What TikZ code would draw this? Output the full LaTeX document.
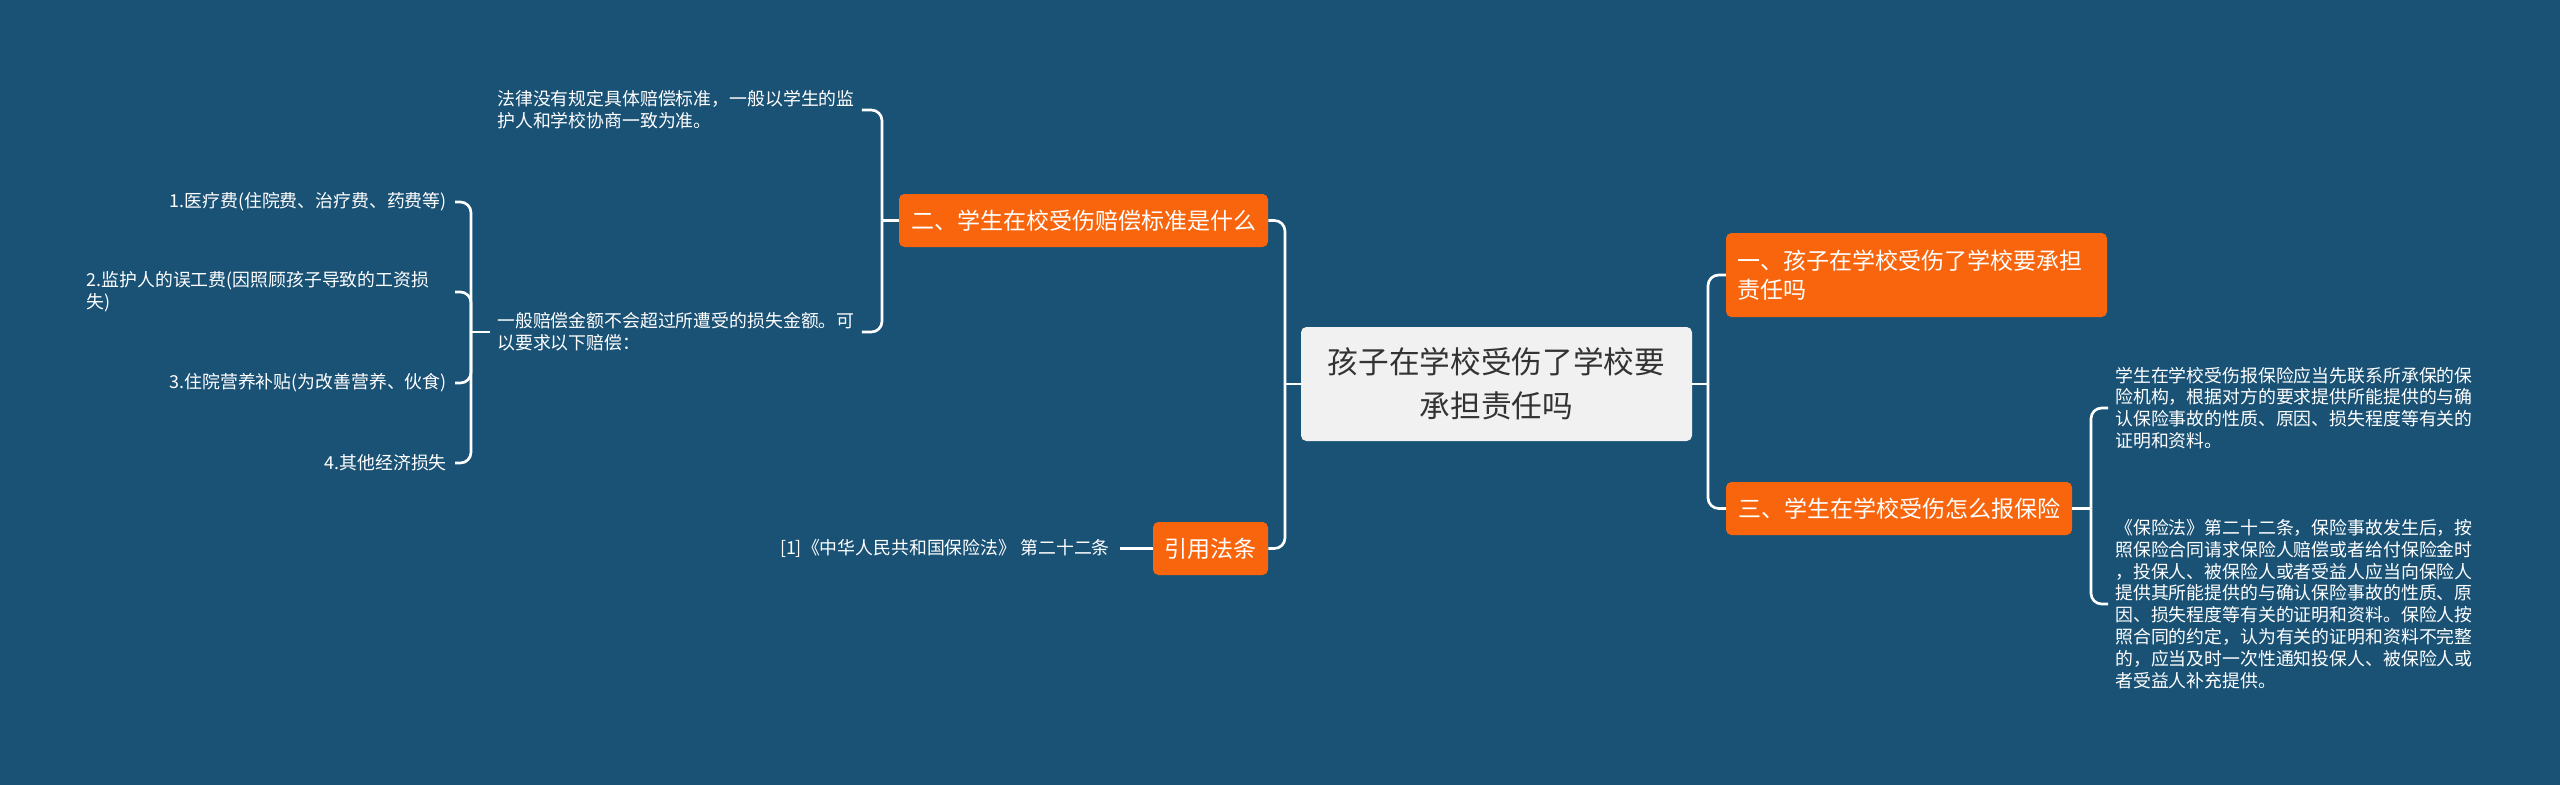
\documentclass[tikz,border=0pt]{standalone}
\usepackage{fontspec}
\setmainfont{Noto Sans CJK SC}
\definecolor{bgblue}{HTML}{1A5276}
\definecolor{orangebox}{HTML}{F8650D}
\definecolor{centerbox}{HTML}{F1F1F1}
\definecolor{centertext}{HTML}{333333}
\begin{document}
\begin{tikzpicture}[x=0.75pt,y=-0.75pt,
  conn/.style={draw=white,line width=2pt,rounded corners=8pt},
  topic/.style={rectangle,rounded corners=4pt,fill=orangebox,text=white,
    font=\fontsize{17.25pt}{21.75pt}\selectfont,minimum height=39.75pt,inner xsep=8.25pt,inner ysep=2pt},
  smalltxt/.style={text=white,font=\fontsize{13.4pt}{16.4pt}\selectfont,inner xsep=5.25pt,inner ysep=3pt}
]
\useasboundingbox (0,0) rectangle (2560,785);
\fill[bgblue] (0,0) rectangle (2560,785);

% central node
\node[rectangle,rounded corners=4pt,fill=centerbox,text=centertext,align=center,
  minimum width=293.25pt,minimum height=85.5pt,
  font=\fontsize{23pt}{33pt}\selectfont] (c) at (1496.5,384)
  {孩子在学校受伤了学校要\\承担责任吗};

% right topics
\node[topic,minimum width=285.75pt,minimum height=63pt,text width=269.25pt,align=left] (n1) at (1916.5,275)
  {一、孩子在学校受伤了学校要承担\\责任吗};
\node[topic,minimum width=259.5pt] (n3) at (1899,508.5) {三、学生在学校受伤怎么报保险};

% left topics
\node[topic,minimum width=276.75pt] (n2) at (1083.5,220.5) {二、学生在校受伤赔偿标准是什么};
\node[topic,minimum width=86.25pt] (cite) at (1210.5,548.5) {引用法条};

% right details
\node[smalltxt,anchor=west,align=left] (r1) at (2108,408)
  {学生在学校受伤报保险应当先联系所承保的保\\险机构，根据对方的要求提供所能提供的与确\\认保险事故的性质、原因、损失程度等有关的\\证明和资料。};
\node[smalltxt,anchor=west,align=left] (r2) at (2108,604)
  {《保险法》第二十二条，保险事故发生后，按\\照保险合同请求保险人赔偿或者给付保险金时\\，投保人、被保险人或者受益人应当向保险人\\提供其所能提供的与确认保险事故的性质、原\\因、损失程度等有关的证明和资料。保险人按\\照合同的约定，认为有关的证明和资料不完整\\的，应当及时一次性通知投保人、被保险人或\\者受益人补充提供。};

% left details
\node[smalltxt,anchor=west,align=left] (t1) at (490,110)
  {法律没有规定具体赔偿标准，一般以学生的监\\护人和学校协商一致为准。};
\node[smalltxt,anchor=west,align=left] (t2) at (490,332)
  {一般赔偿金额不会超过所遭受的损失金额。可\\以要求以下赔偿：};

\node[smalltxt,anchor=east,inner xsep=6pt] (l1) at (455,202) {1.医疗费(住院费、治疗费、药费等)};
\node[smalltxt,anchor=east,text width=270.75pt,align=left] (l2) at (455,292)
  {2.监护人的误工费(因照顾孩子导致的工资损\\失)};
\node[smalltxt,anchor=east,inner xsep=6pt] (l3) at (455,383) {3.住院营养补贴(为改善营养、伙食)};
\node[smalltxt,anchor=east,inner xsep=6pt] (l4) at (455,463) {4.其他经济损失};

\node[smalltxt,anchor=east,inner xsep=7.5pt] (ct) at (1120,548.5) {[1]《中华人民共和国保险法》 第二十二条};

% junction coordinates
\coordinate (jR) at (1708,384);
\coordinate (jL) at (1285,384);
\coordinate (jN3) at (2091,508.5);
\coordinate (jA) at (882,220.5);
\coordinate (jB) at (471,332);

% connectors
\draw[conn] (c.east) -- (jR);
\draw[conn] (jR) |- (n1.west);
\draw[conn] (jR) |- (n3.west);
\draw[conn] (c.west) -- (jL);
\draw[conn] (jL) |- (n2.east);
\draw[conn] (jL) |- (cite.east);
\draw[conn] (n3.east) -- (jN3);
\draw[conn] (jN3) |- (r1.west);
\draw[conn] (jN3) |- (r2.west);
\draw[conn] (n2.west) -- (jA);
\draw[conn] (jA) |- (t1.east);
\draw[conn] (jA) |- (t2.east);
\draw[conn] (t2.west) -- (jB);
\draw[conn] (jB) |- (l1.east);
\draw[conn] (jB) |- (l2.east);
\draw[conn] (jB) |- (l3.east);
\draw[conn] (jB) |- (l4.east);
\draw[conn] (cite.west) -- (ct.east);
\end{tikzpicture}
\end{document}
